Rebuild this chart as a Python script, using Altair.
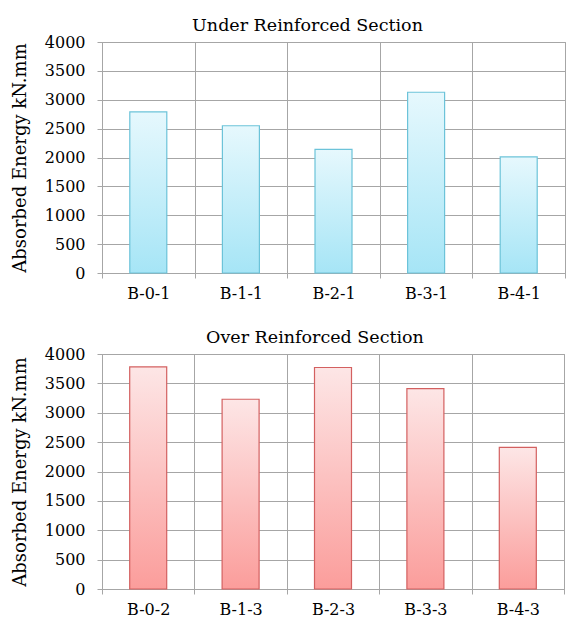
import altair as alt
import pandas as pd

# Absorbed energy (kN.mm) per beam specimen
under_beams = ["B-0-1", "B-1-1", "B-2-1", "B-3-1", "B-4-1"]
under_energy = [2790, 2550, 2140, 3130, 2010]

over_beams = ["B-0-2", "B-1-3", "B-2-3", "B-3-3", "B-4-3"]
over_energy = [3780, 3230, 3770, 3410, 2410]

y_ticks = [0, 500, 1000, 1500, 2000, 2500, 3000, 3500, 4000]

FONT = "DejaVu Serif"
GRID = "#a6a6a6"


def gradient(top, bottom):
    return alt.Gradient(
        gradient="linear",
        stops=[alt.GradientStop(color=top, offset=0),
               alt.GradientStop(color=bottom, offset=1)],
        x1=0, x2=0, y1=0, y2=1,
    )


def panel(beams, energy, title, fill_top, fill_bottom, stroke, width, height, dx):
    df = pd.DataFrame({"beam": beams, "energy": energy})
    return (
        alt.Chart(df, title=alt.TitleParams(
            title, font=FONT, fontSize=17.5, fontWeight="normal", color="#000000",
            anchor="middle", dx=dx, offset=0))
        .mark_bar(size=37, fill=gradient(fill_top, fill_bottom),
                  stroke=stroke, strokeWidth=1.2)
        .encode(
            x=alt.X("beam:N", sort=beams, title=None,
                    scale=alt.Scale(paddingInner=0, paddingOuter=0),
                    axis=alt.Axis(tickBand="extent", labelAngle=0, grid=True,
                                  labelPadding=7, tickSize=5)),
            y=alt.Y("energy:Q", title="Absorbed Energy kN.mm",
                    scale=alt.Scale(domain=[0, 4000], nice=False),
                    axis=alt.Axis(values=y_ticks, format="d", grid=True, tickSize=5,
                                  labelPadding=12, titlePadding=15)),
        )
        .properties(width=width, height=height)
    )


top = panel(under_beams, under_energy, "Under Reinforced Section",
            "#e6f8fd", "#a6e5f6", "#6cc3d9", 463, 231, -26)
bottom = panel(over_beams, over_energy, "Over Reinforced Section",
               "#fde6e6", "#fb9d9b", "#d36060", 462, 235, -18)

chart = (
    alt.vconcat(top, bottom, spacing=26)
    .properties(padding={"left": 10, "top": 16, "right": 0, "bottom": 0},
                background="#ffffff")
    .configure_view(stroke=GRID, strokeWidth=1)
    .configure_axis(
        labelFont=FONT, labelFontSize=16, labelColor="#000000",
        titleFont=FONT, titleFontSize=18, titleFontWeight="normal", titleColor="#000000",
        gridColor=GRID, gridOpacity=1, gridWidth=1,
        domainColor=GRID, tickColor=GRID,
    )
)

chart.save("out.html", embed_options={"renderer": "svg", "actions": False})
